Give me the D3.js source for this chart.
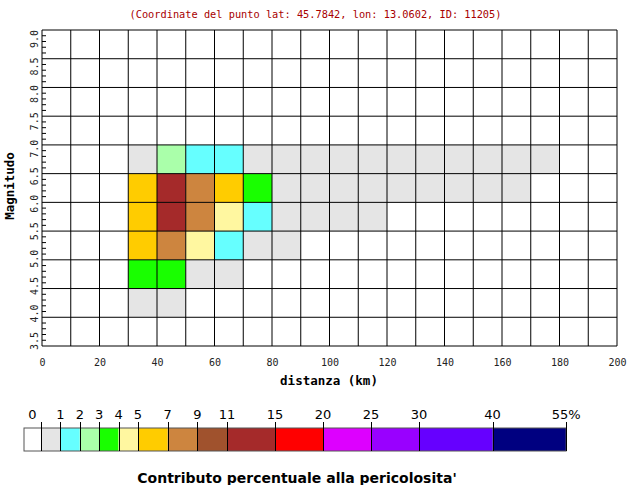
<!DOCTYPE html>
<html>
<head>
<meta charset="utf-8">
<script src="https://cdn.jsdelivr.net/npm/d3@7"></script>
<style>
  html, body { margin: 0; padding: 0; background: #fff; }
  svg { display: block; }
</style>
</head>
<body>
<svg id="chart" width="627" height="485"></svg>
<script>
// Distance bins (km, lower edge) and magnitude bins (lower edge)
const distanceBins = d3.range(0, 200, 10);
const magnitudeBins = [3.5, 4.0, 4.5, 5.0, 5.5, 6.0, 6.5, 7.0, 7.5, 8.0, 8.5];

// Percentage contribution to hazard, one entry per [distance lower edge, value], by magnitude band
const contrib40 = [[30, 0.4], [40, 0.3]];
const contrib45 = [[30, 3.6], [40, 3.2], [50, 0.9], [60, 0.5]];
const contrib50 = [[30, 5.5], [40, 7.4], [50, 4.2], [60, 1.4], [70, 0.7], [80, 0.3]];
const contrib55 = [[30, 6.1], [40, 13.2], [50, 8.1], [60, 4.4], [70, 1.6],
                   [80, 0.9], [90, 0.6], [100, 0.4], [110, 0.2]];
const contrib60 = [[30, 5.8], [40, 12.5], [50, 7.8], [60, 5.2], [70, 3.4],
                   [80, 0.9], [90, 0.8], [100, 0.7], [110, 0.6], [120, 0.5],
                   [130, 0.4], [140, 0.3], [150, 0.2], [160, 0.1]];
const contrib65 = [[30, 0.6], [40, 2.4], [50, 1.5], [60, 1.3], [70, 0.9],
                   [80, 0.8], [90, 0.7], [100, 0.6], [110, 0.5], [120, 0.5],
                   [130, 0.4], [140, 0.3], [150, 0.3], [160, 0.2], [170, 0.2]];
const contribByMagnitude = [[4.0, contrib40], [4.5, contrib45], [5.0, contrib50],
                            [5.5, contrib55], [6.0, contrib60], [6.5, contrib65]];

// Colour classes (percent)
const classBreaks = [1, 2, 3, 4, 5, 7, 9, 11, 15, 20, 25, 30, 40];
const classColors = ["#e5e5e5", "#66ffff", "#aaffaa", "#19ff00", "#fff7a0", "#ffcc00",
                     "#cd853f", "#a0522d", "#a52a2a", "#ff0000", "#dd00ff", "#9900ff",
                     "#6600ff", "#000080"];
const legendLabels = ["0", "1", "2", "3", "4", "5", "7", "9", "11", "15", "20", "25", "30", "40", "55%"];
const legendValues = [0, 1, 2, 3, 4, 5, 7, 9, 11, 15, 20, 25, 30, 40, 55];

const xTicks = d3.range(0, 201, 20);
const yTicks = d3.range(3.5, 9.01, 0.5);

const titleText = "(Coordinate del punto lat: 45.7842, lon: 13.0602, ID: 11205)";

const svg = d3.select("#chart");
const mono = "'DejaVu Sans Mono', monospace";
const sans = "'DejaVu Sans', Verdana, sans-serif";

const plot = { left: 42, right: 617, top: 30, bottom: 346 };
const x = d3.scaleLinear().domain([0, 200]).range([plot.left, plot.right]);
const y = d3.scaleLinear().domain([3.5, 9.0]).range([plot.bottom, plot.top]);
// Magnitude labels sit on a slightly tighter scale than the grid
const yLabel = d3.scaleLinear().domain([3.5, 9.0]).range([341, 39]);
const color = d3.scaleThreshold().domain(classBreaks).range(classColors);

// Title
svg.append("text")
  .attr("x", 315.5).attr("y", 18)
  .attr("text-anchor", "middle")
  .attr("font-family", mono).attr("font-size", 10.3)
  .attr("fill", "#a80000")
  .text(titleText);

// Cells
const cells = contribByMagnitude.flatMap(([m, row]) => row.map(([d, v]) => ({ m, d, v })));
svg.append("g").selectAll("rect").data(cells).join("rect")
  .attr("x", d => x(d.d))
  .attr("y", d => y(d.m + 0.5))
  .attr("width", d => x(d.d + 10) - x(d.d))
  .attr("height", d => y(d.m) - y(d.m + 0.5))
  .attr("fill", d => color(d.v));

// Grid
const grid = svg.append("g").attr("stroke", "#000").attr("stroke-width", 1);
grid.selectAll("line.v").data(distanceBins.concat([200])).join("line")
  .attr("class", "v")
  .attr("x1", d => x(d)).attr("x2", d => x(d))
  .attr("y1", plot.top).attr("y2", plot.bottom);
grid.selectAll("line.h").data(magnitudeBins.concat([9.0])).join("line")
  .attr("class", "h")
  .attr("x1", plot.left).attr("x2", plot.right)
  .attr("y1", d => y(d)).attr("y2", d => y(d));

// Minor magnitude ticks
const minor = d3.range(3.5, 9.0, 0.1).filter(v => Math.abs(v * 2 - Math.round(v * 2)) > 0.01);
grid.selectAll("line.m").data(minor).join("line")
  .attr("class", "m")
  .attr("x1", plot.left).attr("x2", plot.left + 4)
  .attr("y1", d => y(d)).attr("y2", d => y(d));

// X axis labels
const xAxis = svg.append("g")
  .attr("transform", `translate(0,${plot.bottom})`)
  .call(d3.axisBottom(x).tickValues(xTicks).tickSize(0).tickPadding(13).tickFormat(d3.format("d")));
xAxis.select(".domain").remove();
xAxis.selectAll("text").attr("font-family", mono).attr("font-size", 10).attr("fill", "#222");

svg.append("text")
  .attr("x", 329).attr("y", 385)
  .attr("text-anchor", "middle")
  .attr("font-family", mono).attr("font-size", 12.5).attr("font-weight", "bold")
  .attr("fill", "#000")
  .text("distanza (km)");

// Y axis labels (rotated)
svg.append("g").selectAll("text").data(yTicks).join("text")
  .attr("transform", d => `translate(38,${yLabel(d)}) rotate(-90)`)
  .attr("text-anchor", "middle")
  .attr("font-family", mono).attr("font-size", 10).attr("fill", "#222")
  .text(d => d.toFixed(1));

svg.append("text")
  .attr("transform", "translate(14,186) rotate(-90)")
  .attr("text-anchor", "middle")
  .attr("font-family", mono).attr("font-size", 12.5).attr("font-weight", "bold")
  .attr("fill", "#000")
  .text("Magnitudo");

// Legend: band width depends on the span of the class
const legendLeft = 24, legendTop = 428, legendH = 23;
const bandWidth = span => span === 0 ? 17 : span <= 1 ? 19.4 : span <= 2 ? 29.7 : span <= 5 ? 48 : 73.5;
const bands = [];
let cursor = legendLeft;
legendValues.forEach((v, i) => {
  const lo = i === 0 ? 0 : legendValues[i - 1];
  const w = i === 0 ? bandWidth(0) : bandWidth(v - lo);
  bands.push({ x0: cursor, x1: cursor + w, fill: i === 0 ? "#ffffff" : color((lo + v) / 2), label: legendLabels[i], first: i === 0 });
  cursor += w;
});
const legend = svg.append("g");
legend.selectAll("rect").data(bands).join("rect")
  .attr("x", d => d.x0).attr("y", legendTop)
  .attr("width", d => d.x1 - d.x0).attr("height", legendH)
  .attr("fill", d => d.fill);
legend.append("rect")
  .attr("x", legendLeft).attr("y", legendTop)
  .attr("width", cursor - legendLeft).attr("height", legendH)
  .attr("fill", "none").attr("stroke", "#555");
legend.selectAll("line").data(bands).join("line")
  .attr("x1", d => Math.round(d.x1) + 0.5).attr("x2", d => Math.round(d.x1) + 0.5)
  .attr("y1", legendTop - 6).attr("y2", legendTop + legendH)
  .attr("stroke", "#000");
legend.selectAll("text").data(bands).join("text")
  .attr("x", d => d.first ? (d.x0 + d.x1) / 2 : d.x1)
  .attr("y", 419)
  .attr("text-anchor", "middle")
  .attr("font-family", sans).attr("font-size", 13).attr("fill", "#000")
  .text((d, i) => legendLabels[i]);

svg.append("text")
  .attr("x", 297).attr("y", 483)
  .attr("text-anchor", "middle")
  .attr("font-family", sans).attr("font-size", 14).attr("font-weight", "bold")
  .attr("fill", "#000")
  .text("Contributo percentuale alla pericolosita'");
</script>
</body>
</html>
